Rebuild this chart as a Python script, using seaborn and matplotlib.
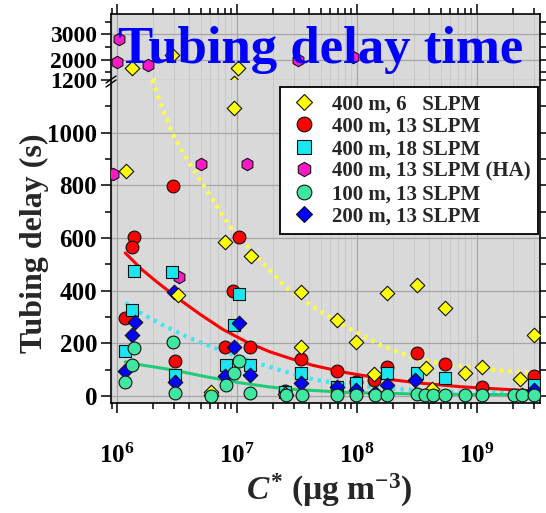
import numpy as np
import pandas as pd
import matplotlib
matplotlib.use("Agg")
import matplotlib.pyplot as plt
from matplotlib.lines import Line2D
from matplotlib.ticker import (LogLocator, FuncFormatter, NullFormatter,
                               FixedLocator)
import seaborn as sns

sns.set_theme(style="ticks")
plt.rcParams["font.family"] = ["Liberation Serif", "DejaVu Serif"]
plt.rcParams["font.weight"] = "bold"
plt.rcParams["mathtext.fontset"] = "custom"
plt.rcParams["mathtext.rm"] = "Liberation Serif:bold"
plt.rcParams["mathtext.bf"] = "Liberation Serif:bold"
plt.rcParams["mathtext.it"] = "Liberation Serif:italic:bold"

# ---- measured tubing delays: C* (ug m-3) vs delay (s) ----
x_400_6 = [1.34e6, 2.88e6, 1.03e7, 1.19e6, 9.5e6, 8.0e6, 1.32e7, 3.2e6, 6.1e6,
           3.4e7, 3.4e7, 6.8e7, 9.8e7, 1.8e8, 3.2e8, 5.4e8, 1.4e8, 3.8e8,
           8.0e8, 1.1e9, 2.3e9, 3.0e9, 2.5e7, 4.2e8]
y_400_6 = [1673, 2185, 1673, 855, 1094, 585, 532, 384, 15,
           395, 186, 289, 205, 391, 422, 334, 84, 106,
           87, 110, 65, 232, 8, 25]

x_400_13 = [1.39e6, 1.33e6, 2.94e6, 1.05e7, 9.3e6, 1.17e6, 7.9e6, 1.29e7,
            3.05e6, 3.4e7, 6.8e7, 9.8e7, 1.8e8, 3.2e8, 5.4e8, 1.1e9, 3.0e9,
            2.5e7, 1.4e8]
y_400_13 = [604, 566, 798, 604, 399, 296, 186, 186,
            133, 141, 95, 53, 110, 163, 122, 34, 76,
            20, 60]

x_400_18 = [1.39e6, 2.87e6, 1.05e7, 1.33e6, 9.5e6, 1.17e6, 3.05e6, 8.1e6,
            1.29e7, 3.4e7, 9.8e7, 1.8e8, 3.2e8, 5.4e8, 3.0e9, 6.8e7, 2.5e7]
y_400_18 = [475, 471, 387, 327, 270, 171, 80, 118,
            118, 87, 49, 87, 87, 68, 42, 34, 15]

x_400_ha = [1.04e6, 1.0e6, 1.82e6, 3.2e7, 9.2e7, 0.93e6, 5.05e6, 1.22e7, 3.3e6]
y_400_ha = [2815, 1909, 1791, 1988, 2106, 843, 881, 881, 452]

x_100_13 = [1.39e6, 1.33e6, 1.17e6, 2.94e6, 3.05e6, 6.1e6, 1.05e7, 9.5e6,
            8.1e6, 1.29e7, 2.55e7, 3.47e7, 6.8e7, 9.8e7, 1.41e8, 1.8e8,
            3.17e8, 3.7e8, 4.3e8, 5.4e8, 8.0e8, 1.1e9, 2.05e9, 2.4e9, 3.0e9]
y_100_13 = [182, 118, 53, 205, 11, 0, 133, 87,
            42, 11, 2, 5, 5, 3, 3, 5,
            8, 3, 3, 5, 3, 5, 3, 2, 5]

x_200_13 = [1.41e6, 1.33e6, 1.17e6, 3.0e6, 3.05e6, 1.05e7, 9.5e6, 7.9e6,
            1.29e7, 6.1e6, 2.55e7, 3.4e7, 6.8e7, 9.8e7, 1.41e8, 1.78e8,
            3.06e8, 4.3e8, 3.0e9, 2.4e9]
y_200_13 = [281, 232, 95, 395, 53, 277, 186, 76,
            80, 5, 3, 49, 34, 23, 11, 42,
            61, 0, 23, 5]

# ---- fitted trend lines ----
fit_6_x = [1.96e6, 2.4e6, 2.88e6, 3.4e6, 4.0e6, 5.0e6, 6.1e6, 7.5e6, 9.2e6,
           1.3e7, 1.77e7, 2.6e7, 4.3e7, 8.2e7, 1.55e8, 3.3e8, 6.3e8, 1.37e9,
           2.95e9]
fit_6_y = [1200, 1090, 999, 940, 885, 815, 756, 690, 630,
           555, 490, 410, 338, 262, 194, 137, 118, 99,
           87]
fit_13_x = [1.17e6, 1.62e6, 2.12e6, 3.1e6, 4.85e6, 7.6e6, 1.2e7, 1.87e7,
            2.75e7, 4.3e7, 8.2e7, 1.55e8, 3.3e8, 7.2e8, 1.55e9, 2.95e9]
fit_13_y = [543, 479, 435, 376, 312, 253, 205, 168,
            143, 116, 88, 67, 49, 35, 26, 19]
fit_18_x = [1.17e6, 1.62e6, 2.38e6, 4.0e6, 6.7e6, 1.1e7, 1.87e7, 2.75e7,
            4.3e7, 8.2e7, 1.55e8, 3.3e8, 7.5e8, 2.95e9]
fit_18_y = [353, 312, 270, 220, 180, 144, 110, 87,
            63, 42, 30, 21, 15, 10]
fit_100_x = [1.17e6, 1.62e6, 2.88e6, 5.5e6, 1.05e7, 1.87e7, 2.75e7, 8.2e7,
             3.3e8, 2.95e9]
fit_100_y = [129, 117, 99, 73, 50, 34, 26, 13, 7, 4]

series = [
    # label, x, y, marker, face, size, zorder
    ("400 m, 13 SLPM (HA)", x_400_ha, y_400_ha, "h", "#ff18c8", 80, 3),
    ("400 m, 13 SLPM", x_400_13, y_400_13, "o", "#ff0000", 85, 4),
    ("400 m, 18 SLPM", x_400_18, y_400_18, "s", "#19e6f0", 70, 5),
    ("200 m, 13 SLPM", x_200_13, y_200_13, "D", "#0000ff", 55, 6),
    ("400 m, 6   SLPM", x_400_6, y_400_6, "D", "#ffff00", 55, 7),
    ("100 m, 13 SLPM", x_100_13, y_100_13, "o", "#3ee8a0", 85, 8),
]
legend_order = ["400 m, 6   SLPM", "400 m, 13 SLPM", "400 m, 18 SLPM",
                "400 m, 13 SLPM (HA)", "100 m, 13 SLPM", "200 m, 13 SLPM"]

fits = [
    (fit_6_x, fit_6_y, "#ffff40", (0, (0.8, 1.2)), 3.0),
    (fit_18_x, fit_18_y, "#3ee6f5", (0, (0.8, 1.2)), 3.0),
    (fit_13_x, fit_13_y, "#ff0000", "-", 2.2),
    (fit_100_x, fit_100_y, "#22cc77", "-", 2.2),
]

W, H = 546, 513
fig = plt.figure(figsize=(W / 100, H / 100), dpi=100)
left, right = 111 / W, 540 / W
ax_top = fig.add_axes([left, 1 - 80 / H, right - left, 66 / H])
ax = fig.add_axes([left, 1 - 403 / H, right - left, 323 / H], sharex=ax_top)

bg = "#d9d9d9"
for a in (ax_top, ax):
    a.set_facecolor(bg)
    a.set_xscale("log")
    for sp in a.spines.values():
        sp.set_linewidth(1.2)
        sp.set_color("black")

handles = {}
for a in (ax_top, ax):
    for fx, fy, col, ls, lw in fits:
        sns.lineplot(x=fx, y=fy, ax=a, color=col, linestyle=ls, linewidth=lw,
                     sort=False, estimator=None, zorder=2.5, legend=False)
    for lab, xs, ys, mk, fc, s, z in series:
        df = pd.DataFrame({"C": xs, "t": ys})
        sns.scatterplot(data=df, x="C", y="t", ax=a, marker=mk, color=fc,
                        s=s, edgecolor="#111111", linewidth=0.8, zorder=z,
                        legend=False)
        if a is ax:
            handles[lab] = Line2D([], [], linestyle="none", marker=mk,
                                  markerfacecolor=fc, markeredgecolor="#111111",
                                  markeredgewidth=0.8,
                                  markersize=(s ** 0.5) * 1.15)

xlim = (0.89e6, 3.37e9)
ax.set_xlim(*xlim)
ax.set_ylim(-27, 1200)
ax_top.set_ylim(1200, 3800)

# axes styling
for a in (ax_top, ax):
    a.set_xlabel("")
    a.set_ylabel("")
    a.xaxis.set_major_locator(LogLocator(base=10, numticks=20))
    a.xaxis.set_minor_locator(LogLocator(base=10, subs=np.arange(2, 10), numticks=40))
    a.xaxis.set_minor_formatter(NullFormatter())
    a.grid(which="major", axis="both", color="#a6a6a6", linewidth=0.9)
    a.grid(which="minor", axis="x", color="#c4c4c4", linewidth=0.5)
    a.set_axisbelow(True)
    a.tick_params(which="both", direction="out", width=1.1, colors="black",
                  left=True, right=True)
    a.tick_params(which="major", length=7)
    a.tick_params(which="minor", length=4)

ax.yaxis.set_major_locator(FixedLocator([0, 200, 400, 600, 800, 1000]))
ax.yaxis.set_minor_locator(FixedLocator([100, 300, 500, 700, 900, 1100]))
ax_top.yaxis.set_major_locator(FixedLocator([1200, 2000, 3000]))
ax_top.yaxis.set_minor_locator(FixedLocator([1500, 2500, 3500]))

ax.spines["top"].set_visible(False)
ax_top.spines["bottom"].set_visible(False)
ax.tick_params(axis="x", which="both", top=False, bottom=True)
ax_top.tick_params(axis="x", which="both", top=True, bottom=False,
                   labeltop=False, labelbottom=False)

ax.xaxis.set_major_formatter(FuncFormatter(
    lambda v, p: r"$\mathbf{10^{%d}}$" % int(round(np.log10(v)))))
ax.tick_params(axis="x", which="major", labelsize=18, pad=22)
ax.tick_params(axis="y", labelsize=18, pad=3)
ax_top.tick_params(axis="y", labelsize=17, pad=3)
for a in (ax_top, ax):
    for t in a.get_yticklabels():
        t.set_fontweight("bold")

# axis break marks on the left spine
for dy in (0, 4):
    fig.add_artist(Line2D([(106) / W, (116) / W],
                          [1 - (83 + dy) / H, 1 - (76 + dy) / H],
                          color="black", linewidth=1.0,
                          transform=fig.transFigure))

# legend
leg = ax.legend([handles[k] for k in legend_order], legend_order,
                loc="upper left", bbox_to_anchor=(280 / W, 1 - 87 / H),
                bbox_transform=fig.transFigure, frameon=True, fancybox=False,
                framealpha=1, edgecolor="black", facecolor="white",
                prop={"weight": "bold", "size": 15}, labelspacing=0.12,
                handletextpad=0.55, borderpad=0.35, handlelength=1.6,
                borderaxespad=0)
leg.get_frame().set_linewidth(1.3)
leg.set_zorder(20)

# text
fig.text(321 / W, 1 - 63 / H, "Tubing delay time", color="#0000ff",
         fontsize=38, fontweight="bold", ha="center", va="baseline", zorder=30)
fig.text(34 / W, 1 - 243 / H, "Tubing delay (s)", rotation=90, fontsize=23,
         fontweight="bold", ha="center", va="center")
fig.text(329 / W, 1 - 490 / H,
         r"$\mathit{C}^{\mathbf{*}}$ (µg m$^{\mathbf{-3}}$)",
         fontsize=24, fontweight="bold", ha="center", va="center")

fig.savefig("out.png", dpi=100)
